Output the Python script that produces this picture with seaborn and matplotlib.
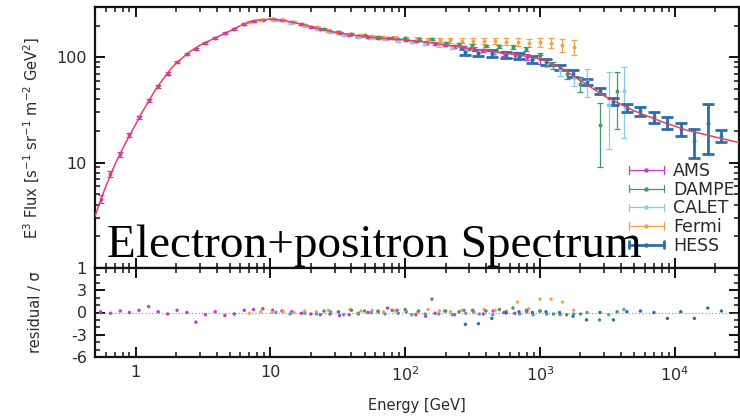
import numpy as np
import pandas as pd
import matplotlib
matplotlib.use("Agg")
import matplotlib.pyplot as plt
import seaborn as sns
from matplotlib.lines import Line2D
from matplotlib.legend_handler import HandlerBase
from matplotlib.ticker import FixedLocator, FixedFormatter, MultipleLocator, LogLocator, NullFormatter

# ---------------- data ----------------
# model fit (E^3 flux) sampled along energy
fit_E = [0.5, 0.55, 0.6, 0.7, 0.8, 0.9, 1.0, 1.1, 1.25, 1.4, 1.6, 1.8, 2.0, 2.5, 3.0, 3.5, 4.0,
         5.0, 6.0, 7.0, 8.0, 10, 12, 15, 20, 25, 30, 40, 50, 70, 100, 150, 200, 300, 450, 700,
         1000, 1400, 2000, 3000, 5000, 8000, 12000, 20000, 30000]
fit_F = [3.1, 4.4, 5.9, 9.5, 13.5, 18, 23, 29, 38, 49, 62, 76, 88, 112, 130, 143, 155,
         177, 200, 216, 225, 230, 226, 214, 195, 182, 173, 163, 157, 151, 146, 138, 131, 121, 113, 105,
         97, 81, 60, 43, 31, 24.5, 20.5, 17.5, 15.5]

ams_E = [0.55, 0.65, 0.77, 0.9, 1.06, 1.25, 1.47, 1.73, 2.03, 2.4, 2.8, 3.3, 3.9, 4.6, 5.4, 6.4,
         7.5, 8.8, 10.4, 12.2, 14.4, 17, 20, 23.5, 27.7, 32.6, 38.4, 45, 53, 63, 74, 87, 102, 120,
         142, 167, 197, 232, 273, 322, 380, 450, 540, 650, 800, 1000]
ams_F = [4.5, 7.8, 12.0, 18.3, 27, 39, 53, 70, 90, 107, 120, 138, 153, 169, 186, 206,
         222, 228, 230, 226, 217, 206, 195, 185, 176, 170, 163, 159, 156, 153, 151, 149, 146, 142,
         138, 135, 131, 127, 124, 120, 116, 113, 109, 106, 101, 96]
ams_err = [0.4, 0.5, 0.6, 0.8, 1.0, 1.3, 1.6, 2.0, 2.4, 2.6, 2.8, 3.0, 3.2, 3.4, 3.6, 3.8,
           4.0, 4.1, 4.1, 4.0, 3.9, 3.7, 3.5, 3.3, 3.2, 3.1, 3.0, 3.0, 3.0, 3.0, 3.0, 3.1, 3.2, 3.3,
           3.4, 3.5, 3.7, 3.9, 4.1, 4.4, 4.8, 5.2, 5.8, 6.5, 7.5, 9.0]
ams_res = [0.1, -0.1, 0.2, 0.0, 0.3, 0.8, 0.1, -0.2, 0.3, 0.0, -1.3, -0.3, 0.1, -0.4, -0.2, 0.3,
           0.4, 0.5, 0.3, 0.2, 0.1, -0.1, -0.2, -0.3, -0.2, -0.4, -0.3, -0.2, 0.0, 0.2, 0.6, 0.3, 0.1, -0.3,
           -0.5, -0.1, 0.2, -0.3, 0.3, 0.1, -0.2, 0.2, 0.0, -0.1, 0.1, 0.2]

dampe_E = [25, 32, 40, 50, 63, 80, 100, 126, 158, 200, 251, 316, 398, 501, 631, 794, 1000,
           1260, 1580, 2000, 2770, 3740]
dampe_F = [185, 175, 167, 161, 157, 154, 151, 148, 150, 137, 133, 130, 128, 127, 125, 120, 104,
           84, 70, 56, 23, 48]
dampe_lo = [3, 3, 3, 3, 3, 3, 3, 3, 3, 3, 3, 3.5, 4, 4.5, 5, 5.5, 6, 7, 8, 9, 14, 27]
dampe_hi = [3, 3, 3, 3, 3, 3, 3, 3, 3, 3, 3, 3.5, 4, 4.5, 5, 5.5, 6, 7, 8, 9, 14, 24]
dampe_res = [0.2, 0.1, 0.3, 0.2, 0.1, 0.3, 0.4, 0.2, 1.8, 0.2, 0.1, 0.3, 0.2, 0.4, 0.6, 0.3, 0.2,
             -0.2, -0.3, -0.2, -1.0, 0.1]

calet_E = [11, 14, 18, 22, 28, 35, 45, 56, 71, 89, 112, 141, 178, 224, 282, 355, 447, 562, 708,
           891, 1122, 1413, 1778, 2239, 3240, 4200]
calet_F = [224, 213, 198, 186, 172, 164, 157, 152, 148, 144, 140, 135, 130, 125, 119, 115, 110,
           106, 102, 96, 88, 76, 64, 60, 35, 48]
calet_lo = [4, 4, 4, 4, 3.5, 3.5, 3.5, 3.5, 3.5, 3.5, 3.5, 3.5, 3.5, 4, 4, 4.5, 5, 5.5, 6, 7,
            8, 9, 11, 18, 21.5, 31]
calet_hi = [4, 4, 4, 4, 3.5, 3.5, 3.5, 3.5, 3.5, 3.5, 3.5, 3.5, 3.5, 4, 4, 4.5, 5, 5.5, 6, 7,
            8, 9, 11, 18, 37, 32]
calet_res = [0.0, -0.2, -0.1, -0.2, 0.1, -0.3, -0.1, 0.0, -0.2, -0.1, -0.3, -0.2, -0.2, -0.3,
             -0.1, -0.2, -0.3, -0.1, -0.2, -0.3, -0.2, -0.3, -0.2, 0.0, -0.3, 0.4]

fermi_E = [7, 8.5, 10.3, 12.5, 15, 18, 22, 27, 32, 39, 47, 57, 69, 84, 101, 123, 148, 180, 217,
           263, 318, 385, 466, 564, 683, 826, 1000, 1210, 1470, 1780]
fermi_F = [218, 227, 230, 226, 216, 204, 192, 180, 172, 166, 162, 158, 155, 153, 151, 149, 147,
           146, 145, 144, 143, 143, 142, 141, 140, 138, 140, 138, 130, 125]
fermi_err = [5, 5, 5, 5, 5, 5, 5, 5, 5, 5, 5, 5, 5, 5, 5.5, 6, 6.5, 7, 7.5, 8, 8.5, 9, 9.5, 10,
             11, 12, 14, 16, 18, 20]
fermi_res = [-0.1, 0.1, 0.0, 0.1, 0.0, 0.2, 0.1, 0.3, 0.1, 0.4, 0.2, 0.3, 0.1, 0.2, 0.3, 0.0,
             0.4, 0.2, 0.1, 0.3, 0.2, 0.4, 0.3, 0.2, 1.4, 0.5, 1.8, 1.8, 1.4, 0.3]

hess_E = [280, 350, 440, 560, 700, 880, 1110, 1400, 1760, 2220, 2790, 3510, 4420, 5570, 7010,
          8830, 11100, 14000, 17600, 22200]
hess_F = [112, 110, 109, 106, 103, 96, 90, 80, 70, 58, 48, 38, 33, 31, 27, 24, 21, 16, 24, 18]
hess_err = [8, 8, 8, 7, 7, 7, 6, 5, 5, 4, 3.5, 3, 3, 3, 3, 3, 3, 5, 12, 2.3]
hess_res = [-1.6, -1.5, -0.8, 0.0, 0.1, 0.0, 0.1, 0.0, -0.5, -1.0, 0.0, -1.0, 0.1, 0.2, 0.0,
            -0.8, 0.1, -0.8, 0.6, 0.2]

# ---------------- style ----------------
sns.set_theme(style="ticks")
plt.rcParams["font.family"] = ["DejaVu Sans"]
plt.rcParams["mathtext.fontset"] = "dejavusans"

COL = {
    "AMS": "#c03cc8",
    "DAMPE": "#3f9a62",
    "CALET": "#86cbea",
    "Fermi": "#f4a24a",
    "HESS": "#2a6fac",
    "fit": "#e8405c",
}
TXT = "#2a2a2a"

fig = plt.figure(figsize=(7.4, 4.18), dpi=100)
W, H = 740, 418
L, R, T, S, B = 95, 739, 7, 268, 357
ax1 = fig.add_axes([L / W, 1 - S / H, (R - L) / W, (S - T) / H])
ax2 = fig.add_axes([L / W, 1 - B / H, (R - L) / W, (B - S) / H])

# ---------------- spectrum panel ----------------
series = [
    ("AMS", ams_E, ams_F, [ams_err, ams_err], 0.9, 2.0),
    ("Fermi", fermi_E, fermi_F, [fermi_err, fermi_err], 0.9, 2.0),
    ("CALET", calet_E, calet_F, [calet_lo, calet_hi], 0.9, 2.0),
    ("DAMPE", dampe_E, dampe_F, [dampe_lo, dampe_hi], 0.9, 2.0),
    ("HESS", hess_E, hess_F, [hess_err, hess_err], 2.0, 4.0),
]
for name, e, f, err, lw, cap in series:
    ax1.errorbar(e, f, yerr=np.array(err), fmt="o", ms=1.8, color=COL[name],
                 ecolor=COL[name], elinewidth=lw, capsize=cap, capthick=lw, zorder=3)

fit_df = pd.DataFrame({"E": fit_E, "F": fit_F})
sns.lineplot(data=fit_df, x="E", y="F", ax=ax1, color=COL["fit"], lw=1.1,
             sort=False, estimator=None, zorder=4)

ax1.set_xscale("log")
ax1.set_yscale("log")
ax1.set_xlim(0.5, 3e4)
ax1.set_ylim(1, 300)
ax1.set_xlabel("")
ax1.set_ylabel(r"E$^3$ Flux [s$^{-1}$ sr$^{-1}$ m$^{-2}$ GeV$^2$]", fontsize=10.5, color=TXT,
               labelpad=10)
ax1.yaxis.set_major_locator(FixedLocator([1, 10, 100]))
ax1.yaxis.set_major_formatter(FixedFormatter(["1", "10", "100"]))
ax1.yaxis.set_minor_locator(LogLocator(base=10, subs=np.arange(2, 10)))
ax1.yaxis.set_minor_formatter(NullFormatter())
ax1.xaxis.set_major_locator(FixedLocator([1, 10, 100, 1000, 10000]))
ax1.xaxis.set_minor_locator(LogLocator(base=10, subs=np.arange(2, 10)))
ax1.tick_params(axis="x", which="both", labelbottom=False)

# ---------------- residual panel ----------------
res_sets = [
    ("AMS", ams_E, ams_res),
    ("Fermi", fermi_E, fermi_res),
    ("CALET", calet_E, calet_res),
    ("DAMPE", dampe_E, dampe_res),
    ("HESS", hess_E, hess_res),
]
ax2.axhline(0, color="#8a8a9a", lw=0.8, ls=(0, (1, 2)), zorder=1)
for name, e, r in res_sets:
    d = pd.DataFrame({"E": e, "r": r})
    sns.scatterplot(data=d, x="E", y="r", ax=ax2, color=COL[name] if name != "CALET" else "#5a9ab8",
                    s=6, marker="o", edgecolor="none", zorder=3, legend=False)

ax2.set_xscale("log")
ax2.set_xlim(0.5, 3e4)
ax2.set_ylim(-6, 6)
ax2.yaxis.set_major_locator(FixedLocator([-6, -3, 0, 3]))
ax2.yaxis.set_major_formatter(FixedFormatter(["-6", "-3", "0", "3"]))
ax2.yaxis.set_minor_locator(MultipleLocator(1))
ax2.xaxis.set_major_locator(FixedLocator([1, 10, 100, 1000, 10000]))
ax2.xaxis.set_major_formatter(FixedFormatter(["1", "10", r"$10^2$", r"$10^3$", r"$10^4$"]))
ax2.xaxis.set_minor_locator(LogLocator(base=10, subs=np.arange(2, 10)))
ax2.xaxis.set_minor_formatter(NullFormatter())
ax2.set_xlabel("Energy [GeV]", fontsize=10.5, color=TXT, labelpad=10)
ax2.set_ylabel("residual / \u03c3", fontsize=10.5, color=TXT, labelpad=20)

for ax in (ax1, ax2):
    for sp in ax.spines.values():
        sp.set_linewidth(1.6)
        sp.set_color("#111111")
    ax.tick_params(which="both", direction="in", top=True, right=True, colors="#111111",
                   labelcolor=TXT, labelsize=11.5)
    ax.tick_params(which="major", length=7, width=1.4, pad=6)
    ax.tick_params(which="minor", length=3.5, width=1.1)
    ax.set_facecolor("white")

# ---------------- key ----------------
class KeyErrorbar(HandlerBase):
    def create_artists(self, legend, orig_handle, xdescent, ydescent, width, height,
                       fontsize, trans):
        c = orig_handle.get_color()
        lw = orig_handle.get_linewidth()
        x0, x1 = -xdescent, -xdescent + width
        yc = (height - ydescent) / 2
        h = 0.3 * height
        bar = Line2D([x0, x1], [yc, yc], color=c, lw=lw)
        caps = Line2D([x0, x0, np.nan, x1, x1], [yc - h, yc + h, np.nan, yc - h, yc + h],
                      color=c, lw=lw)
        dot = Line2D([(x0 + x1) / 2], [yc], marker="o", ms=2.2, color=c, ls="none")
        for a in (bar, caps, dot):
            a.set_transform(trans)
        return [bar, caps, dot]

names = ["AMS", "DAMPE", "CALET", "Fermi", "HESS"]
proxies = [Line2D([], [], color=COL[n], lw=2.0 if n == "HESS" else 0.9) for n in names]
ax1.legend(proxies, names, handler_map={Line2D: KeyErrorbar()}, loc="upper left",
           bbox_to_anchor=(629 / W, 1 - 162 / H), bbox_transform=fig.transFigure,
           frameon=False, fontsize=12.5, handlelength=2.0, handletextpad=0.55,
           labelspacing=0.04, borderpad=0, borderaxespad=0, labelcolor=TXT)

fig.text(107 / W, 1 - 257 / H, "Electron+positron Spectrum", family=["Liberation Serif"],
         fontsize=34, color="black", ha="left", va="baseline")

fig.savefig("out.png", dpi=100, facecolor="white")
